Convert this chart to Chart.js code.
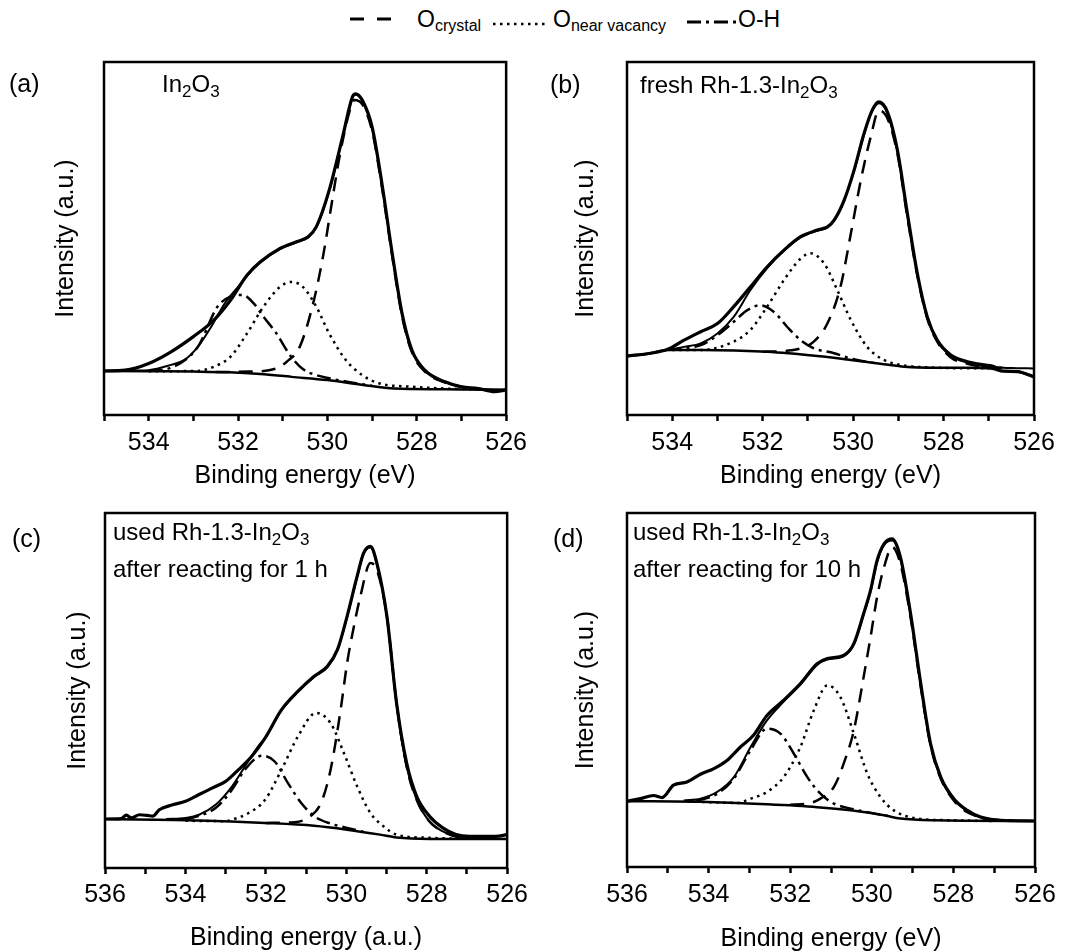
<!DOCTYPE html>
<html>
<head>
<meta charset="utf-8">
<title>O 1s XPS</title>
<script src="https://cdn.jsdelivr.net/npm/chart.js@4.4.1/dist/chart.umd.min.js"></script>
<style>
  body { margin: 0; background: #fff; }
  #fig { position: relative; width: 1068px; height: 952px; overflow: hidden;
         font-family: "Liberation Sans", Arial, sans-serif; color: #000; }
  .panel { position: absolute; }
  .txt { position: absolute; font-size: 24px; line-height: 24px; white-space: nowrap; }
  .txt sub { font-size: 17px; vertical-align: -5px; line-height: 0; }
  .lbl { font-size: 25px; }
  .legtxt { font-size: 23px; line-height: 23px; }
  .legtxt sub { font-size: 16px; vertical-align: -4px; }
  .leg { position: absolute; }
</style>
</head>
<body>
<div id="fig">
  <!-- legend -->
  <svg class="leg" style="left:350px;top:8px" width="44" height="20"><line x1="0" y1="11" x2="44" y2="11" stroke="#000" stroke-width="3" stroke-dasharray="14,13"/></svg>
  <div class="txt legtxt" style="left:417px;top:7.5px">O<sub>crystal</sub></div>
  <svg class="leg" style="left:493px;top:14px" width="56" height="20"><line x1="0" y1="10" x2="56" y2="10" stroke="#000" stroke-width="2.5" stroke-dasharray="2.5,4.5"/></svg>
  <div class="txt legtxt" style="left:553px;top:7.5px">O<sub>near vacancy</sub></div>
  <svg class="leg" style="left:687px;top:12px" width="50" height="20"><line x1="0" y1="10" x2="50" y2="10" stroke="#000" stroke-width="3" stroke-dasharray="14,5,3,5"/></svg>
  <div class="txt legtxt" style="left:738px;top:7.5px">O-H</div>

  <div class="panel" id="wa"><canvas id="ca"></canvas></div>
  <div class="panel" id="wb"><canvas id="cb"></canvas></div>
  <div class="panel" id="wc"><canvas id="cc"></canvas></div>
  <div class="panel" id="wd"><canvas id="cd"></canvas></div>

  <div class="txt lbl" style="left:9px;top:71px">(a)</div>
  <div class="txt" style="left:162px;top:72px">In<sub>2</sub>O<sub>3</sub></div>
  <div class="txt lbl" style="left:550px;top:72px">(b)</div>
  <div class="txt" style="left:640px;top:73px">fresh Rh-1.3-In<sub>2</sub>O<sub>3</sub></div>
  <div class="txt lbl" style="left:12px;top:526px">(c)</div>
  <div class="txt" style="left:113px;top:520px">used Rh-1.3-In<sub>2</sub>O<sub>3</sub></div>
  <div class="txt" style="left:113px;top:557px">after reacting for 1 h</div>
  <div class="txt lbl" style="left:553px;top:526px">(d)</div>
  <div class="txt" style="left:633px;top:520px">used Rh-1.3-In<sub>2</sub>O<sub>3</sub></div>
  <div class="txt" style="left:633px;top:557px">after reacting for 10 h</div>
</div>

<script>
// binding energy (eV) / intensity (a.u., 0-100 of the frame height)

// (a) In2O3
const rawA = [[535.0,12.5],[534.53,12.7],[534.0,14.6],[533.5,17.9],[533.0,22.2],[532.54,26.9],[532.17,32.5],[531.8,39.6],[531.5,43.4],[531.06,47.2],[530.69,49.1],[530.43,50.5],[530.25,53.3],[529.96,63.7],[529.66,78.8],[529.44,90.1],[529.37,91.0],[529.22,89.2],[529.0,81.6],[528.78,65.6],[528.55,45.8],[528.33,28.8],[528.11,18.4],[527.82,12.7],[527.37,9.4],[527.0,8.0],[526.63,7.5],[526.26,6.6],[526.0,7.1]];
const envA = [[534.3,12.6],[534.0,12.7],[533.5,14.2],[533.2,15.6],[532.9,19.3],[532.6,25.0],[532.3,31.6],[532.0,36.3],[531.8,39.4],[531.5,43.2],[531.06,47.0],[530.69,48.9],[530.43,50.3],[530.25,53.1],[529.96,63.5],[529.66,78.6],[529.44,89.9],[529.37,90.7],[529.22,88.9],[529.0,81.2],[528.78,65.2],[528.55,45.5],[528.33,28.5],[528.11,18.2],[527.82,12.5],[527.37,9.3],[527.0,7.9],[526.5,7.4],[526.0,7.2]];
const bgA = [[535.0,12.5],[534.0,12.4],[533.0,12.3],[532.2,12.1],[531.5,11.6],[530.8,10.8],[530.0,9.9],[529.2,8.5],[528.5,7.5],[527.4,7.3],[526.0,7.1]];
const crysA = [[532.5,12.2],[531.73,12.3],[531.14,13.2],[530.91,15.1],[530.62,19.3],[530.32,31.6],[530.1,44.8],[529.88,61.8],[529.73,73.1],[529.51,85.8],[529.4,89.2],[529.22,88.0],[529.0,80.5],[528.78,64.5],[528.55,45.0],[528.33,28.0],[528.11,17.8],[527.82,12.3],[527.37,9.2],[527.0,8.0],[526.5,7.3]];
const vacA = [[534.0,12.4],[532.9,12.5],[532.54,13.7],[532.17,16.5],[531.8,23.1],[531.43,30.7],[531.06,36.3],[530.8,37.7],[530.55,36.3],[530.25,30.7],[529.96,23.1],[529.59,15.6],[529.22,11.3],[528.85,9.0],[528.11,8.0],[527.37,7.5],[526.5,7.2]];
const ohA = [[534.0,12.5],[533.5,13.4],[532.9,19.3],[532.46,30.7],[532.17,33.5],[531.9,34.0],[531.65,31.6],[531.43,27.8],[531.14,23.1],[530.84,17.0],[530.55,13.0],[530.25,11.3],[529.96,10.4],[529.5,9.3],[529.0,8.3]];

// (b) fresh Rh-1.3-In2O3
const rawB = [[535.0,16.7],[534.48,17.5],[534.1,18.6],[533.74,21.2],[533.37,23.6],[533.0,25.9],[532.64,30.7],[532.27,36.3],[531.9,42.0],[531.53,46.7],[531.16,50.5],[530.79,52.4],[530.57,53.3],[530.42,55.2],[530.2,60.8],[529.98,69.3],[529.76,79.7],[529.58,86.3],[529.43,88.7],[529.24,85.8],[529.02,75.0],[528.8,57.1],[528.58,40.1],[528.36,27.8],[528.14,21.2],[527.84,17.0],[527.47,15.1],[527.1,14.2],[526.88,13.7],[526.74,12.5],[526.37,12.3],[526.0,10.8]];
const envB = [[534.1,18.4],[533.74,19.3],[533.37,20.3],[533.0,23.1],[532.64,27.8],[532.27,35.4],[531.9,41.6],[531.53,46.5],[531.16,50.3],[530.79,52.2],[530.57,53.1],[530.42,55.0],[530.2,60.6],[529.98,69.1],[529.76,79.4],[529.58,86.0],[529.43,88.3],[529.24,85.4],[529.02,74.6],[528.8,56.8],[528.58,39.8],[528.36,27.6],[528.14,21.0],[527.84,16.8],[527.47,14.8],[527.1,13.8],[526.5,13.3],[526.0,13.2]];
const bgB = [[535.0,16.7],[534.48,17.5],[534.1,18.4],[533.37,18.4],[531.9,17.9],[530.79,16.7],[530.05,15.6],[529.32,14.4],[528.87,13.7],[528.2,13.4],[527.47,13.4],[526.96,13.2],[526.74,12.5],[526.37,12.3],[526.0,10.8]];
const crysB = [[532.0,17.9],[531.46,18.2],[531.16,18.9],[530.87,20.8],[530.57,25.9],[530.28,36.3],[530.05,51.4],[529.83,66.5],[529.61,78.8],[529.43,86.3],[529.24,84.0],[529.02,74.0],[528.8,56.0],[528.58,39.5],[528.36,27.3],[528.14,20.8],[527.84,16.3],[527.47,14.5],[527.1,13.6],[526.5,13.3]];
const vacB = [[534.0,18.4],[533.37,18.4],[532.64,20.8],[532.27,24.1],[531.9,30.7],[531.53,38.2],[531.16,44.3],[530.94,45.8],[530.64,42.9],[530.35,35.4],[530.05,26.9],[529.69,19.3],[529.32,15.6],[528.95,14.2],[528.2,13.4],[527.0,13.2]];
const ohB = [[534.1,18.4],[533.74,18.9],[533.37,19.8],[533.0,22.6],[532.64,26.4],[532.34,29.7],[532.05,31.1],[531.75,29.2],[531.46,25.0],[531.16,21.2],[530.87,18.9],[530.42,17.5],[530.05,16.0],[529.5,14.6]];

// (c) used, 1 h
const rawC = [[536.0,13.8],[535.6,13.9],[535.47,14.9],[535.35,14.1],[535.14,15.0],[534.95,14.8],[534.81,14.6],[534.65,16.4],[534.32,17.8],[534.0,18.8],[533.66,20.7],[533.34,22.5],[533.0,24.4],[532.68,27.7],[532.35,31.5],[532.02,36.6],[531.61,44.6],[531.2,49.8],[530.8,54.0],[530.47,56.8],[530.22,61.5],[529.98,70.9],[529.73,82.2],[529.57,88.7],[529.4,90.6],[529.24,85.9],[528.99,70.9],[528.75,46.5],[528.5,29.6],[528.25,20.2],[527.93,14.6],[527.6,11.3],[527.27,9.4],[526.94,8.9],[526.29,8.9],[526.0,9.4]];
const envC = [[534.48,13.8],[534.0,14.1],[533.66,15.0],[533.25,17.8],[532.84,23.0],[532.52,28.6],[532.19,34.3],[532.02,36.6],[531.61,44.4],[531.2,49.6],[530.8,53.8],[530.47,56.6],[530.22,61.3],[529.98,70.7],[529.73,82.0],[529.57,88.5],[529.4,90.3],[529.24,85.6],[528.99,70.5],[528.75,46.0],[528.5,28.6],[528.25,19.2],[527.93,13.1],[527.6,10.3],[527.27,8.9],[526.5,8.3],[526.0,8.2]];
const bgC = [[536.0,13.8],[533.66,13.4],[532.02,12.7],[530.8,11.9],[529.98,10.8],[529.16,9.4],[528.75,8.6],[527.93,8.2],[526.0,8.2]];
const crysC = [[532.0,12.7],[531.29,12.9],[530.96,14.1],[530.63,18.3],[530.39,27.7],[530.14,44.6],[529.98,57.7],[529.81,68.1],[529.65,76.5],[529.4,85.9],[529.24,84.0],[528.99,70.9],[528.75,46.5],[528.5,28.6],[528.25,19.2],[527.93,13.1],[527.6,10.3],[527.1,8.5],[526.5,8.3]];
const vacC = [[534.0,13.3],[533.0,13.2],[532.84,13.6],[532.43,15.5],[532.02,19.2],[531.61,27.7],[531.2,37.1],[530.75,43.7],[530.39,40.8],[530.06,32.4],[529.73,23.0],[529.4,15.5],[529.07,11.7],[528.75,9.4],[527.93,8.5],[527.0,8.2]];
const ohC = [[534.0,13.5],[533.25,16.9],[532.84,22.1],[532.52,27.7],[532.1,31.6],[531.78,30.0],[531.45,23.9],[531.12,18.3],[530.8,14.6],[530.39,12.5],[529.98,11.3],[529.5,10.0]];

// (d) used, 10 h
const rawD = [[536.0,18.6],[535.67,19.3],[535.35,20.2],[535.14,19.6],[534.86,23.1],[534.53,24.0],[534.2,26.2],[533.87,27.8],[533.55,30.1],[533.22,33.9],[532.9,37.2],[532.57,42.8],[532.16,47.1],[531.75,51.8],[531.34,57.4],[531.09,58.9],[530.69,59.8],[530.44,63.1],[530.2,71.6],[530.03,78.2],[529.87,86.6],[529.7,91.3],[529.5,92.7],[529.3,87.6],[529.05,71.6],[528.8,51.8],[528.56,34.8],[528.31,25.4],[527.99,19.3],[527.66,16.0],[527.33,14.1],[526.84,13.2],[526.0,13.0]];
const envD = [[534.61,18.8],[534.2,19.3],[533.79,21.2],[533.38,25.4],[532.97,33.9],[532.57,41.4],[532.16,46.7],[531.75,51.5],[531.34,57.1],[531.09,58.6],[530.69,59.5],[530.44,62.8],[530.2,71.3],[530.03,77.9],[529.87,86.2],[529.7,90.9],[529.5,92.2],[529.3,87.2],[529.05,71.2],[528.8,51.4],[528.56,34.5],[528.31,25.1],[527.99,19.0],[527.66,15.8],[527.33,14.0],[526.84,13.2],[526.0,13.0]];
const bgD = [[536.0,18.6],[534.2,18.4],[532.57,17.7],[531.34,16.9],[530.52,16.0],[529.7,14.6],[529.3,13.7],[528.48,13.2],[526.0,13.0]];
const crysD = [[532.0,17.6],[531.58,17.9],[531.26,19.3],[530.93,22.6],[530.69,29.2],[530.44,38.6],[530.2,53.7],[530.03,65.0],[529.87,76.3],[529.7,84.7],[529.5,90.4],[529.3,85.7],[529.05,70.6],[528.8,50.8],[528.56,34.4],[528.31,25.0],[527.99,18.8],[527.66,15.5],[526.84,13.2],[526.5,13.1]];
const vacD = [[534.5,18.5],[533.3,18.1],[532.97,19.3],[532.57,21.2],[532.16,25.4],[531.75,33.9],[531.42,44.3],[531.09,51.3],[530.77,48.0],[530.44,37.7],[530.11,26.4],[529.79,19.8],[529.46,16.0],[528.89,13.7],[528.07,13.2],[527.0,13.0]];
const ohD = [[534.3,18.6],[533.79,20.7],[533.38,25.0],[532.97,33.0],[532.57,39.1],[532.24,37.7],[531.91,32.0],[531.58,25.4],[531.26,20.7],[530.93,17.9],[530.52,16.5],[530.11,15.5],[529.6,14.4]];

const xRanges = { a: [526, 535], b: [526, 535], c: [526, 536], d: [526, 536] };
const xTitles = { a: 'Binding energy (eV)', b: 'Binding energy (eV)', c: 'Binding energy (a.u.)', d: 'Binding energy (eV)' };
const yTitle = 'Intensity (a.u.)';

// page layout of each panel (wrapper box + axis sizes)
const layouts = {
  a: { left: 0,   top: 0,   width: 534, height: 505, padTop: 62, padRight: 22, yAxisW: 104, yTitlePad: 51, tickPad: 7, xTitlePad: 14 },
  b: { left: 534, top: 0,   width: 534, height: 505, padTop: 62, padRight: 34, yAxisW: 93,  yTitlePad: 37, tickPad: 7, xTitlePad: 14 },
  c: { left: 0,   top: 470, width: 534, height: 488, padTop: 43, padRight: 22, yAxisW: 105, yTitlePad: 63, tickPad: 6, xTitlePad: 5 },
  d: { left: 534, top: 470, width: 534, height: 487, padTop: 43, padRight: 33, yAxisW: 93,  yTitlePad: 37, tickPad: 7, xTitlePad: 3 }
};
const X_AXIS_H = 90;
const AXIS_FONT = { family: '"Liberation Sans", Arial, sans-serif', size: 25 };

const framePlugin = {
  id: 'frame',
  afterDatasetsDraw(chart) {
    const { ctx, chartArea: a } = chart;
    ctx.save();
    ctx.strokeStyle = '#000';
    ctx.lineWidth = 2.5;
    ctx.strokeRect(a.left, a.top, a.right - a.left, a.bottom - a.top);
    ctx.restore();
  }
};

function toPts(arr) {
  return arr.map(p => ({ x: p[0], y: p[1] }));
}

function line(label, arr, width, dash) {
  return {
    label: label,
    data: toPts(arr),
    borderColor: '#000',
    borderWidth: width,
    borderDash: dash || [],
    pointRadius: 0,
    fill: false,
    tension: 0.4,
    cubicInterpolationMode: 'monotone'
  };
}

function makePanel(key, series) {
  const L = layouts[key];
  const wrap = document.getElementById('w' + key);
  wrap.style.left = L.left + 'px';
  wrap.style.top = L.top + 'px';
  wrap.style.width = L.width + 'px';
  wrap.style.height = L.height + 'px';

  new Chart(document.getElementById('c' + key), {
    type: 'line',
    data: {
      datasets: [
        line('Background', series.bg, 2.5),
        line('O crystal', series.crys, 2.5, [14, 9]),
        line('O near vacancy', series.vac, 2.5, [2.5, 4.5]),
        line('O-H', series.oh, 2.5, [14, 5, 3, 5]),
        line('Fit', series.env, 2),
        line('Raw', series.raw, 3.2)
      ]
    },
    options: {
      responsive: true,
      maintainAspectRatio: false,
      animation: false,
      layout: { padding: { top: L.padTop, right: L.padRight, bottom: 0, left: 0 } },
      plugins: { legend: { display: false }, tooltip: { enabled: false } },
      scales: {
        x: {
          type: 'linear',
          reverse: true,
          min: xRanges[key][0],
          max: xRanges[key][1],
          border: { display: false },
          grid: { drawOnChartArea: false, drawTicks: true, tickLength: 6, tickWidth: 2.5, color: '#000' },
          ticks: {
            stepSize: 1,
            autoSkip: false,
            maxRotation: 0,
            padding: L.tickPad,
            color: '#000',
            font: AXIS_FONT,
            callback: v => (v % 2 === 0 ? String(v) : '')
          },
          title: {
            display: true,
            text: xTitles[key],
            color: '#000',
            font: AXIS_FONT,
            padding: { top: 0, bottom: L.xTitlePad }
          },
          afterFit: s => { s.height = X_AXIS_H; }
        },
        y: {
          type: 'linear',
          min: 0,
          max: 100,
          border: { display: false },
          grid: { display: false },
          ticks: { display: false },
          title: {
            display: true,
            text: yTitle,
            color: '#000',
            font: AXIS_FONT,
            padding: { top: L.yTitlePad, bottom: 0 }
          },
          afterFit: s => { s.width = L.yAxisW; }
        }
      }
    },
    plugins: [framePlugin]
  });
}

makePanel('a', { raw: rawA, env: envA, bg: bgA, crys: crysA, vac: vacA, oh: ohA });
makePanel('b', { raw: rawB, env: envB, bg: bgB, crys: crysB, vac: vacB, oh: ohB });
makePanel('c', { raw: rawC, env: envC, bg: bgC, crys: crysC, vac: vacC, oh: ohC });
makePanel('d', { raw: rawD, env: envD, bg: bgD, crys: crysD, vac: vacD, oh: ohD });
</script>
</body>
</html>
